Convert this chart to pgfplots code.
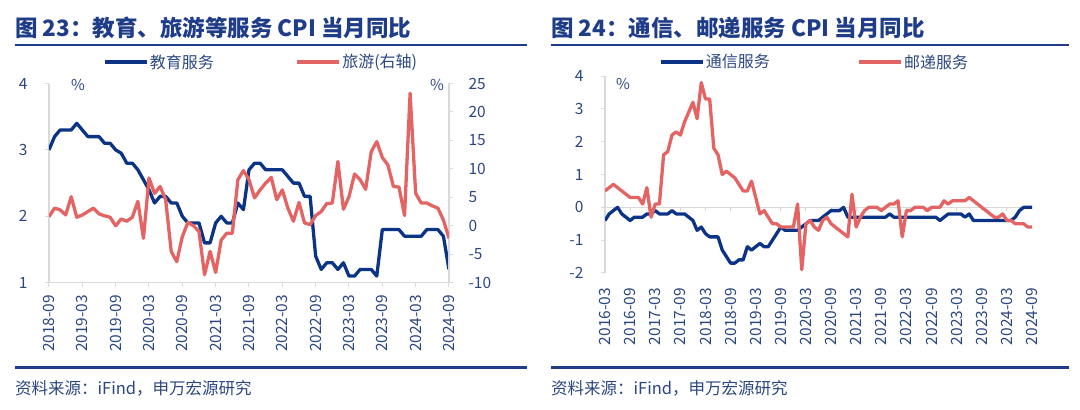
\documentclass[border=0pt]{standalone}
\usepackage{fontspec}
\setmainfont{Noto Sans CJK SC}
\usepackage{pgfplots}
\usepackage{pgfplotstable}
\pgfplotsset{compat=1.18}
\definecolor{cblue}{HTML}{0B3487}
\definecolor{cred}{HTML}{E46464}
\definecolor{navy}{HTML}{1F3C88}
\definecolor{txt}{HTML}{2B4780}
\definecolor{axgray}{HTML}{D9D9D9}

% left panel: m = months since 2018-09
\pgfplotstableread{
m edu tour
0 3.0 1.6
1 3.2 3.1
2 3.3 2.8
3 3.3 1.9
4 3.3 5.1
5 3.4 1.5
6 3.3 1.9
7 3.2 2.5
8 3.2 3.1
9 3.2 2.1
10 3.1 1.75
11 3.1 1.5
12 3.0 0.0
13 2.95 1.2
14 2.8 0.8
15 2.8 1.5
16 2.7 4.3
17 2.55 -2.2
18 2.4 8.4
19 2.2 5.7
20 2.3 6.9
21 2.3 4.6
22 2.2 -4.5
23 2.2 -6.3
24 2.0 -1.9
25 1.9 0.6
26 1.9 0.0
27 1.9 -1.0
28 1.6 -8.6
29 1.6 -4.5
30 1.9 -8.2
31 2.0 -2.5
32 1.9 -1.3
33 1.9 -1.3
34 2.2 8.1
35 2.1 9.7
36 2.7 8.1
37 2.8 4.9
38 2.8 6.3
39 2.7 7.5
40 2.7 8.5
41 2.7 4.6
42 2.7 6.3
43 2.6 3.1
44 2.5 0.8
45 2.5 4.1
46 2.3 0.5
47 2.3 0.2
48 1.4 1.8
49 1.2 2.5
50 1.3 3.9
51 1.3 4.0
52 1.2 11.3
53 1.3 2.9
54 1.1 5.1
55 1.1 9.1
56 1.2 8.1
57 1.2 6.4
58 1.2 13.0
59 1.1 14.8
60 1.8 12.0
61 1.8 10.7
62 1.8 6.9
63 1.8 6.8
64 1.7 1.8
65 1.7 23.3
66 1.7 5.7
67 1.7 4.0
68 1.8 4.0
69 1.8 3.5
70 1.8 3.1
71 1.7 1.0
72 1.2 -2.2
}\lefttable

% right panel: m = months since 2016-03
\pgfplotstableread{
m tel post
0 -0.4 0.5
1 -0.2 0.6
2 -0.1 0.7
3 0.0 0.6
4 -0.2 0.5
5 -0.3 0.4
6 -0.4 0.3
7 -0.3 0.3
8 -0.3 0.3
9 -0.3 0.1
10 -0.2 0.6
11 -0.2 -0.3
12 -0.1 0.1
13 -0.2 0.1
14 -0.2 1.6
15 -0.2 1.7
16 -0.1 2.2
17 -0.2 2.3
18 -0.2 2.2
19 -0.2 2.6
20 -0.3 2.9
21 -0.4 3.2
22 -0.7 2.7
23 -0.6 3.8
24 -0.8 3.3
25 -0.9 3.3
26 -0.9 1.8
27 -0.9 1.6
28 -1.3 1.0
29 -1.5 1.1
30 -1.7 1.0
31 -1.7 0.9
32 -1.6 0.7
33 -1.6 0.5
34 -1.2 0.5
35 -1.3 0.8
36 -1.2 0.3
37 -1.1 -0.2
38 -1.2 -0.1
39 -1.2 -0.3
40 -1.0 -0.5
41 -0.8 -0.5
42 -0.6 -0.6
43 -0.7 -0.6
44 -0.7 -0.6
45 -0.7 -0.6
46 -0.7 0.1
47 -0.6 -1.9
48 -0.5 -0.5
49 -0.4 -0.4
50 -0.4 -0.6
51 -0.4 -0.7
52 -0.3 -0.4
53 -0.2 -0.3
54 -0.1 -0.5
55 -0.1 -0.6
56 -0.1 -0.7
57 0.0 -0.8
58 -0.3 -0.9
59 -0.3 0.4
60 -0.3 -0.6
61 -0.3 -0.3
62 -0.3 -0.1
63 -0.3 0.0
64 -0.3 0.0
65 -0.3 0.0
66 -0.3 -0.1
67 -0.3 0.0
68 -0.2 0.1
69 -0.3 0.1
70 -0.3 0.2
71 -0.3 -0.9
72 -0.3 -0.1
73 -0.3 -0.1
74 -0.3 0.0
75 -0.3 0.0
76 -0.3 0.0
77 -0.3 -0.1
78 -0.3 0.0
79 -0.3 0.0
80 -0.4 0.0
81 -0.3 0.2
82 -0.2 0.1
83 -0.2 0.2
84 -0.2 0.2
85 -0.2 0.2
86 -0.3 0.2
87 -0.2 0.3
88 -0.4 0.2
89 -0.4 0.1
90 -0.4 0.0
91 -0.4 -0.1
92 -0.4 -0.2
93 -0.4 -0.3
94 -0.4 -0.3
95 -0.4 -0.2
96 -0.4 -0.4
97 -0.4 -0.4
98 -0.3 -0.5
99 -0.1 -0.5
100 0.0 -0.5
101 0.0 -0.6
102 0.0 -0.6
}\righttable

\pgfplotsset{
  mystyle/.style={
    scale only axis,
    anchor=south west,
    axis line style={axgray, line width=1.2pt},
    tick style={axgray, line width=1pt},
    tick align=outside,
    major tick length=4pt,
    ticklabel style={font=\fontsize{15.5}{15.5}\selectfont, text=txt},
    /pgf/number format/assume math mode=true,
    xticklabel style={rotate=90, anchor=east, inner sep=0pt},
    xticklabel shift=8pt,
    legend cell align=left,
    legend columns=2,
    legend image code/.code={\draw[#1] (0pt,0pt) -- (42pt,0pt);},
  },
  lin/.style={line width=3.3pt, line join=round},
}

\begin{document}
\begin{tikzpicture}
\useasboundingbox (0pt,0pt) rectangle (1080pt,410pt);

% ---------- left panel ----------
\node[anchor=west, inner sep=0pt, text=navy, font=\fontsize{22.5}{22.5}\selectfont\bfseries] at (15pt,382pt) {图 23：教育、旅游等服务 CPI 当月同比};
\draw[navy, line width=2.6pt] (15pt,365pt) -- (527pt,365pt);
\draw[navy, line width=2.6pt] (15pt,42.7pt) -- (527pt,42.7pt);
\node[anchor=west, inner sep=0pt, text=txt, font=\fontsize{16.5}{16.5}\selectfont] at (15pt,21.7pt) {资料来源：iFind，申万宏源研究};

\begin{axis}[mystyle,
  at={(49pt,127.3pt)}, width=400pt, height=199.2pt,
  xmin=0, xmax=72, ymin=1, ymax=4,
  axis x line*=bottom, axis y line*=left,
  ytick={1,2,3,4},
  yticklabel style={anchor=east, xshift=-14pt},
  xtick={0,6,...,72},
  xticklabels={2018-09,2019-03,2019-09,2020-03,2020-09,2021-03,2021-09,2022-03,2022-09,2023-03,2023-09,2024-03,2024-09},
  legend style={draw=none, fill=none, at={(0.135,1.108)}, anchor=west, inner sep=0pt,
    font=\fontsize{16}{16}\selectfont, text=txt,
    nodes={inner sep=1.5pt},
    /tikz/every even column/.append style={column sep=80pt}},
]
\addplot[cblue, lin] table[x=m, y=edu] {\lefttable};
\addlegendentry{教育服务}
\addlegendimage{cred, lin}
\addlegendentry{旅游(右轴)}
\end{axis}

\begin{axis}[mystyle,
  at={(49pt,127.3pt)}, width=400pt, height=199.2pt,
  xmin=0, xmax=72, ymin=-10, ymax=25,
  axis x line=none, axis y line*=right,
  ytick={-10,-5,...,25},
  yticklabel style={anchor=west, xshift=12pt},
]
\addplot[cred, lin] table[x=m, y=tour] {\lefttable};
\end{axis}

\node[text=txt, font=\fontsize{15}{15}\selectfont] at (78pt,325pt) {\%};
\node[text=txt, font=\fontsize{15}{15}\selectfont] at (437pt,325pt) {\%};

% ---------- right panel ----------
\node[anchor=west, inner sep=0pt, text=navy, font=\fontsize{22.5}{22.5}\selectfont\bfseries] at (551pt,382pt) {图 24：通信、邮递服务 CPI 当月同比};
\draw[navy, line width=2.6pt] (551pt,365pt) -- (1069pt,365pt);
\draw[navy, line width=2.6pt] (551pt,42.7pt) -- (1069pt,42.7pt);
\node[anchor=west, inner sep=0pt, text=txt, font=\fontsize{16.5}{16.5}\selectfont] at (551pt,21.7pt) {资料来源：iFind，申万宏源研究};

\begin{axis}[mystyle,
  at={(605pt,137pt)}, width=427pt, height=197pt,
  xmin=0, xmax=102, ymin=-2, ymax=4,
  axis x line*=bottom, axis y line*=left,
  x axis line style={draw=none},
  xtick style={draw=none},
  ytick={-2,-1,0,1,2,3,4},
  yticklabel style={anchor=east, xshift=-14pt},
  xtick={0,6,...,102},
  xticklabels={2016-03,2016-09,2017-03,2017-09,2018-03,2018-09,2019-03,2019-09,2020-03,2020-09,2021-03,2021-09,2022-03,2022-09,2023-03,2023-09,2024-03,2024-09},
  xticklabel shift=11pt,
  legend style={draw=none, fill=none, at={(0.126,1.071)}, anchor=west, inner sep=0pt,
    font=\fontsize{16}{16}\selectfont, text=txt,
    nodes={inner sep=1.5pt},
    /tikz/every even column/.append style={column sep=86pt}},
]
\draw[axgray, line width=1.2pt] (axis cs:0,0) -- (axis cs:102,0);
\foreach \t in {6,12,...,102} {\edef\temp{\noexpand\draw[axgray, line width=1pt] (axis cs:\t,0) -- ++(0pt,-4pt);}\temp}
\addplot[cblue, lin] table[x=m, y=tel] {\righttable};
\addlegendentry{通信服务}
\addplot[cred, lin] table[x=m, y=post] {\righttable};
\addlegendentry{邮递服务}
\end{axis}

\node[text=txt, font=\fontsize{15}{15}\selectfont] at (623pt,326pt) {\%};

\end{tikzpicture}
\end{document}
